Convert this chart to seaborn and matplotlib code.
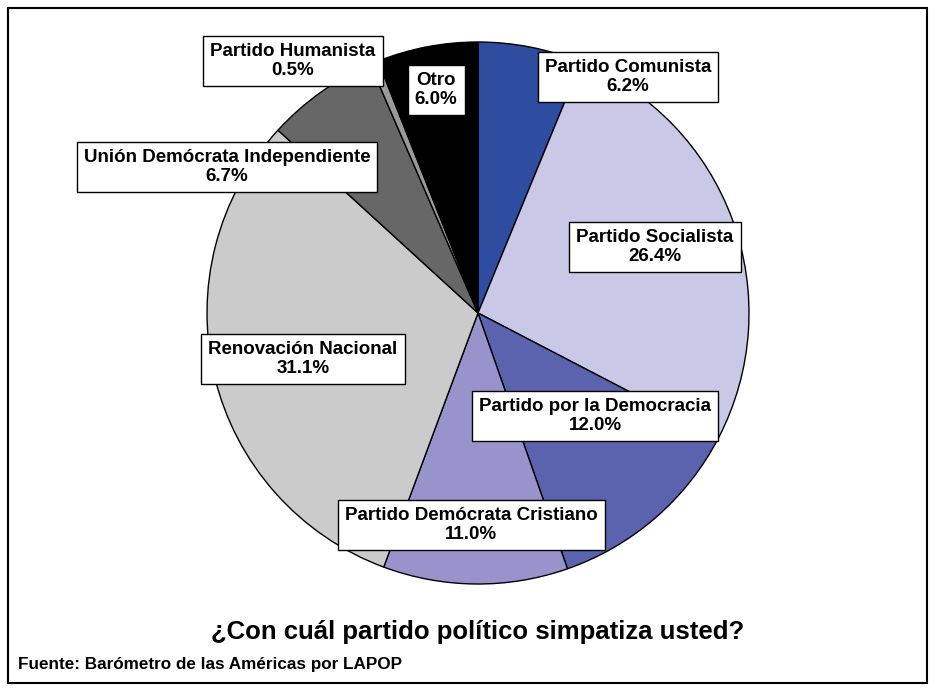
import numpy as np
import pandas as pd
import seaborn as sns
import matplotlib
matplotlib.use("Agg")
import matplotlib.pyplot as plt
from matplotlib.patches import Rectangle

partidos = ["Partido Comunista", "Partido Socialista", "Partido por la Democracia",
            "Partido Demócrata Cristiano", "Renovación Nacional",
            "Unión Demócrata Independiente", "Partido Humanista", "Otro"]
porcentajes = [6.2, 26.4, 12.0, 11.0, 31.1, 6.7, 0.5, 6.0]
colores = ["#2E4DA0", "#C9C8E6", "#5B62AE", "#9894CB", "#CBCBCB", "#676767", "#9A9A9A", "#000000"]

sns.set_theme(style="white")
plt.rcParams['font.family'] = ['Liberation Sans', 'DejaVu Sans']
plt.rcParams['text.color'] = 'black'

df = pd.DataFrame({"partido": partidos, "pct": porcentajes})

W, H = 935, 691
fig = plt.figure(figsize=(W / 100, H / 100), dpi=100)
ax = fig.add_axes([0, 0, 1, 1])

cx, cy, r = 478, H - 313, 271
ax.pie(df["pct"], colors=colores, startangle=90, counterclock=False,
       center=(cx, cy), radius=r, frame=True,
       wedgeprops=dict(edgecolor="black", linewidth=1.0))
ax.set_xlim(0, W)
ax.set_ylim(0, H)
ax.set_aspect("auto")
ax.axis("off")

# label box centres (pixel coords from top)
pos = [(628, 77), (655, 247), (595, 416), (471, 525), (303, 359), (227, 167), (293, 61), (436, 90)]
for (name, v), (x, y) in zip(zip(partidos, porcentajes), pos):
    ax.text(x, H - y, f"{name}\n{v:.1f}%", ha="center", va="center",
            fontsize=13.5, fontweight="bold", linespacing=1.15, color="black",
            bbox=dict(boxstyle="square,pad=0.38", fc="white", ec="black", lw=1.0))

ax.text(478, H - 632, "¿Con cuál partido político simpatiza usted?", ha="center", va="center",
        fontsize=18.5, fontweight="bold", color="black")
ax.text(18, H - 665, "Fuente: Barómetro de las Américas por LAPOP", ha="left", va="center",
        fontsize=12.3, fontweight="bold", color="black")

fig.patches.append(Rectangle((8 / W, 8 / H), 919 / W, 675 / H, transform=fig.transFigure,
                             fill=False, ec="black", lw=1.5))

fig.savefig("out.png", dpi=100)
